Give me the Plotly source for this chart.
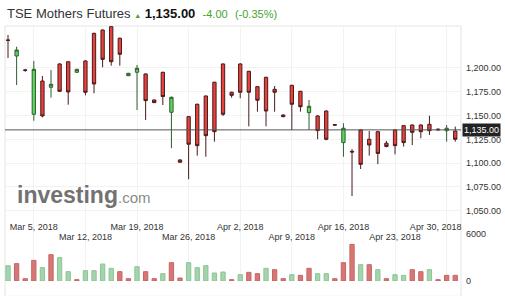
import plotly.graph_objects as go

# ---------------- data ----------------
opens = [1229.5, 1212.6, 1198.0, 1151.4, 1186.3, 1179.7, 1204.2, 1206.6, 1195.5, 1207.4,
         1236.4, 1239.9, 1243.4, 1231.2, 1191.9, 1195.5, 1193.7, 1166.4, 1195.5, 1153.5,
         1103.4, 1148.9, 1161.9, 1170.6, 1185.0, 1204.2, 1174.5, 1204.2, 1196.5, 1180.4,
         1190.2, 1177.6, 1150.6, 1181.8, 1175.5, 1153.1, 1149.6, 1154.8, 1140.5, 1121.6,
         1112.5, 1134.9, 1125.1, 1133.1, 1121.0, 1134.9, 1139.4, 1140.1, 1140.1, 1140.8,
         1135.8, 1134.1, 1133.8]
highs = [1234.7, 1222.4, 1199.0, 1207.4, 1191.6, 1197.9, 1205.0, 1207.0, 1199.0, 1208.0,
         1237.0, 1240.5, 1244.0, 1232.0, 1194.8, 1203.2, 1194.2, 1166.8, 1196.0, 1170.0,
         1104.0, 1149.5, 1162.5, 1171.0, 1185.5, 1204.8, 1175.1, 1205.0, 1197.0, 1181.0,
         1190.8, 1181.1, 1151.2, 1182.3, 1176.0, 1166.4, 1150.2, 1155.3, 1141.0, 1141.9,
         1114.6, 1135.5, 1133.8, 1133.8, 1123.4, 1135.4, 1140.0, 1140.6, 1140.8, 1149.9,
         1136.3, 1140.1, 1138.4]
lows = [1210.5, 1182.1, 1196.0, 1144.6, 1148.2, 1168.8, 1175.0, 1161.4, 1195.0, 1171.3,
        1173.4, 1200.7, 1202.4, 1202.4, 1191.5, 1155.9, 1145.4, 1163.2, 1161.1, 1115.7,
        1100.5, 1083.1, 1107.9, 1106.8, 1122.6, 1149.6, 1168.8, 1168.2, 1138.7, 1154.1,
        1138.7, 1154.1, 1148.2, 1134.9, 1154.1, 1134.9, 1125.2, 1124.0, 1139.5, 1106.8,
        1065.5, 1093.9, 1107.9, 1099.0, 1116.6, 1109.3, 1117.4, 1119.1, 1126.2, 1129.6,
        1134.8, 1122.6, 1122.6]
closes = [1229.0, 1218.9, 1197.5, 1198.6, 1149.6, 1182.9, 1175.5, 1174.8, 1198.6, 1174.5,
          1183.2, 1209.1, 1206.6, 1214.4, 1194.4, 1199.7, 1165.7, 1163.6, 1170.0, 1169.2,
          1101.0, 1119.9, 1118.4, 1128.9, 1133.1, 1151.4, 1171.3, 1174.5, 1174.5, 1166.1,
          1154.8, 1174.5, 1148.9, 1161.9, 1159.3, 1159.8, 1134.2, 1125.1, 1140.0, 1136.7,
          1111.8, 1098.8, 1119.1, 1110.3, 1117.6, 1118.4, 1121.6, 1132.4, 1133.1, 1134.1,
          1135.0, 1136.7, 1125.1]
volumes = [1937, 2190, 295, 2610, 1685, 3325, 2950, 1180, 170, 1305,
           1305, 2150, 1600, 1180, 295, 1810, 1180, 295, 925, 2315,
           380, 2315, 1685, 1937, 1010, 1135, 170, 800, 1095, 925,
           1600, 1430, 295, 800, 715, 1600, 925, 925, 295, 2315,
           4630, 2060, 2060, 1430, 295, 800, 715, 1430, 1180, 1430,
           170, 715, 715]
volume_dir = ["u", "d", "d", "d", "u", "d", "u", "u", "d", "u",
              "u", "u", "u", "d", "d", "u", "d", "d", "u", "d",
              "d", "u", "u", "u", "u", "u", "d", "u", "d", "d",
              "u", "d", "d", "u", "d", "d", "u", "u", "d", "d",
              "d", "u", "d", "u", "d", "u", "u", "d", "d", "u",
              "d", "d", "d"]
week_tick_index = [3, 9, 15, 21, 27, 33, 39, 45, 51]
week_tick_labels = ["Mar 5, 2018", "Mar 12, 2018", "Mar 19, 2018", "Mar 26, 2018",
                    "Apr 2, 2018", "Apr 9, 2018", "Apr 16, 2018", "Apr 23, 2018",
                    "Apr 30, 2018"]
price_ticks = [1050, 1075, 1100, 1125, 1150, 1175, 1200]
volume_ticks = [0, 6000]
last_price = 1135.00
change = -4.00
change_pct = -0.35
title_name = "TSE Mothers Futures"

# ---------------- figure ----------------
x = list(range(len(opens)))
xr = [-0.35, 52.67]
n_ticks = len(week_tick_index)

vol_colors = ["#a3d4ac" if d == "u" else "#d77775" for d in volume_dir]
vol_lines = ["#8cc497" if d == "u" else "#c76563" for d in volume_dir]

fig = go.Figure()
# volume panel on x/y (drawn first, so later date labels sit above its grid)
fig.add_trace(go.Bar(x=x, y=volumes, xaxis="x", yaxis="y", width=0.5,
                     marker=dict(color=vol_colors, line=dict(color=vol_lines, width=1)),
                     hoverinfo="skip", showlegend=False))
# price panel on x2/y2
fig.add_trace(go.Candlestick(
    x=x, open=opens, high=highs, low=lows, close=closes, xaxis="x2", yaxis="y2",
    increasing=dict(fillcolor="#5cd65c", line=dict(color="#2f5e2f", width=1)),
    decreasing=dict(fillcolor="#e8423f", line=dict(color="#4a1a1a", width=1)),
    whiskerwidth=0, showlegend=False, hoverinfo="skip"))

# date label rows: even weeks on row 1, odd weeks on row 2, last label shifted to fit
row1_idx = [week_tick_index[i] for i in range(0, n_ticks - 1, 2)]
row1_txt = [week_tick_labels[i] for i in range(0, n_ticks - 1, 2)]
row2_idx = [week_tick_index[i] for i in range(1, n_ticks, 2)]
row2_txt = [week_tick_labels[i] for i in range(1, n_ticks, 2)]
last_idx = [week_tick_index[-1]]
last_txt = [week_tick_labels[-1]]

axis_font = dict(family="Liberation Sans, Arial", size=9, color="#333333")
grid_c = "#f2f2f2"

fig.update_layout(
    width=505, height=296,
    margin=dict(l=5, r=44, t=26, b=15),
    paper_bgcolor="white", plot_bgcolor="white",
    boxgap=0.45, bargap=0.5,
    xaxis=dict(domain=[0, 1], range=xr, anchor="y", showticklabels=False,
               showgrid=True, gridcolor=grid_c, zeroline=False, tickvals=week_tick_index,
               ticks=""),
    yaxis=dict(domain=[0, 0.247], range=[0, 7958], side="right", anchor="x",
               tickvals=volume_ticks, ticktext=[str(v) for v in volume_ticks],
               tickfont=axis_font, showgrid=False, zeroline=False, ticks="",
               ticklabelstandoff=4),
    xaxis2=dict(domain=[0, 1], range=xr, anchor="y2", tickvals=week_tick_index,
                ticktext=[""] * n_ticks, showgrid=True, gridcolor=grid_c, zeroline=False,
                showline=False, ticks="", tickfont=axis_font,
                rangeslider=dict(visible=False)),
    xaxis3=dict(range=xr, overlaying="x2", anchor="y2", side="bottom",
                tickvals=row1_idx, ticktext=row1_txt, showgrid=False,
                zeroline=False, showline=False, ticks="", tickfont=axis_font,
                ticklabelstandoff=2),
    xaxis4=dict(range=xr, overlaying="x2", anchor="y2", side="bottom",
                tickvals=row2_idx, ticktext=row2_txt, showgrid=False,
                zeroline=False, showline=False, ticks="", tickfont=axis_font,
                ticklabelstandoff=12),
    xaxis5=dict(range=xr, overlaying="x2", anchor="y2", side="bottom",
                tickvals=last_idx, ticktext=last_txt, showgrid=False,
                zeroline=False, showline=False, ticks="", tickfont=axis_font,
                ticklabelstandoff=2, ticklabelshift=-11),
    yaxis2=dict(domain=[0.247, 1], range=[1042.4, 1244.1], side="right", anchor="x2",
                tickvals=price_ticks, tickformat=",.2f", tickfont=axis_font,
                showgrid=True, gridcolor=grid_c, zeroline=False, ticks="",
                ticklabelstandoff=4),
)
# invisible traces so the label-row axes are drawn
for ax in ["x3", "x4", "x5"]:
    fig.add_trace(go.Scatter(x=[xr[0]], y=[last_price], xaxis=ax, yaxis="y2",
                             mode="markers", marker=dict(opacity=0), showlegend=False,
                             hoverinfo="skip"))

# frame
fig.add_shape(type="rect", xref="paper", yref="paper", x0=0, x1=1, y0=-0.06, y1=1,
              line=dict(color="#e4e4e4", width=1), layer="below")
# last price line
fig.add_shape(type="line", xref="paper", yref="y2", x0=0, x1=1, y0=last_price, y1=last_price,
              line=dict(color="#555555", width=1))
fig.add_annotation(xref="paper", yref="y2", x=1.0, y=last_price, xanchor="left",
                   yanchor="middle", xshift=1, text=f"{last_price:,.2f}", showarrow=False,
                   bgcolor="#222222", font=dict(family="Liberation Sans, Arial", size=9,
                                                 color="white"), borderpad=1)

# watermark
fig.add_annotation(xref="paper", yref="paper", x=0.021, y=0.338, xanchor="left",
                   yanchor="middle", showarrow=False,
                   text="<b>investing</b><span style='font-size:15px;color:#8a8a8a'>.com</span>",
                   font=dict(family="Liberation Sans, Arial", size=23, color="#727272"))

# title
green = "#45a42e"
fig.add_annotation(xref="paper", yref="paper", x=0, y=1, yshift=13, xanchor="left",
                   yanchor="middle", showarrow=False,
                   text=(f"<span style='color:#333'>{title_name}</span> "
                         f"<span style='font-size:7px;color:{green}'>▲</span> "
                         f"<b style='color:#111'>{last_price:,.2f}</b>  "
                         f"<span style='font-size:11px;color:{green}'>{change:.2f}</span>  "
                         f"<span style='font-size:11px;color:{green}'>({change_pct:.2f}%)</span>"),
                   font=dict(family="Liberation Sans, Arial", size=13))

fig.write_html("out.html")
